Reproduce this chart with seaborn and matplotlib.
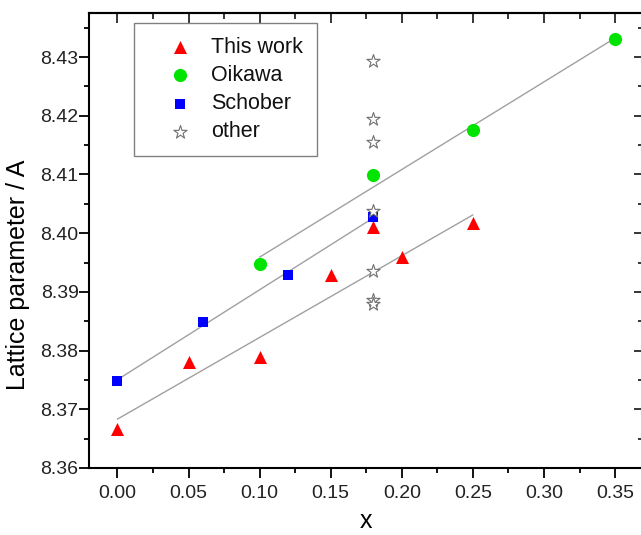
import numpy as np
import pandas as pd
import matplotlib
matplotlib.use("Agg")
import matplotlib.pyplot as plt
from matplotlib.ticker import MultipleLocator, FixedLocator
import seaborn as sns

# ---------------- data ----------------
this_x = [0.00, 0.05, 0.10, 0.15, 0.18, 0.20, 0.25]
this_y = [8.3667, 8.3780, 8.3789, 8.3929, 8.4011, 8.3960, 8.4018]
this_fit_excluded_x = [0.18]

oik_x = [0.10, 0.18, 0.25, 0.35]
oik_y = [8.3948, 8.4099, 8.4176, 8.4330]

sch_x = [0.00, 0.06, 0.12, 0.18]
sch_y = [8.3748, 8.3849, 8.3928, 8.4028]

oth_x = [0.18, 0.18, 0.18, 0.18, 0.18, 0.18, 0.18]
oth_y = [8.4293, 8.4195, 8.4155, 8.4037, 8.3936, 8.3887, 8.3880]

series_labels = ["This work", "Oikawa", "Schober", "other"]

xtick_vals = [0.00, 0.05, 0.10, 0.15, 0.20, 0.25, 0.30, 0.35]
xtick_labels = ["0.00", "0.05", "0.10", "0.15", "0.20", "0.25", "0.30", "0.35"]
ytick_vals = [8.36, 8.37, 8.38, 8.39, 8.40, 8.41, 8.42, 8.43]
ytick_labels = ["8.36", "8.37", "8.38", "8.39", "8.40", "8.41", "8.42", "8.43"]

x_label = "x"
y_label = "Lattice parameter / A"

# ---------------- style ----------------
sns.set_style("ticks")
plt.rcParams["font.family"] = ["Liberation Sans", "DejaVu Sans"]

fig = plt.figure(figsize=(6.41, 5.35), dpi=100)
ax = fig.add_axes([89 / 641, 1 - 468 / 535, (643.5 - 89) / 641, (468 - 13) / 535])

df_this = pd.DataFrame({"x": this_x, "y": this_y})
df_fit = df_this[~df_this["x"].isin(this_fit_excluded_x)]
df_oik = pd.DataFrame({"x": oik_x, "y": oik_y})
df_sch = pd.DataFrame({"x": sch_x, "y": sch_y})
df_oth = pd.DataFrame({"x": oth_x, "y": oth_y})

line_kws = dict(color="#a0a0a0", lw=1.0, zorder=1)
sns.regplot(data=df_fit, x="x", y="y", scatter=False, ci=None, truncate=True,
            line_kws=line_kws, ax=ax)
sns.regplot(data=df_oik, x="x", y="y", scatter=False, ci=None, truncate=True,
            line_kws=line_kws, ax=ax)
sns.regplot(data=df_sch, x="x", y="y", scatter=False, ci=None, truncate=True,
            line_kws=line_kws, ax=ax)

sns.scatterplot(data=df_this, x="x", y="y", marker="^", s=88, color="#ff0000",
                edgecolor="#ff0000", linewidth=0, label=series_labels[0], ax=ax, zorder=3)
sns.scatterplot(data=df_oik, x="x", y="y", marker="o", s=90, color="#00e400",
                edgecolor="#00e400", linewidth=0, label=series_labels[1], ax=ax, zorder=3)
sns.scatterplot(data=df_sch, x="x", y="y", marker="s", s=52, color="#0000ff",
                edgecolor="#0000ff", linewidth=0, label=series_labels[2], ax=ax, zorder=3)
sns.scatterplot(data=df_oth, x="x", y="y", marker="*", s=100, facecolor="white",
                edgecolor="#707070", linewidth=0.8, label=series_labels[3], ax=ax, zorder=4)

ax.set_xlim(-0.02, 0.37)
ax.set_ylim(8.36, 8.4375)

ax.set_xticks(xtick_vals)
ax.set_xticklabels(xtick_labels)
ax.set_yticks(ytick_vals)
ax.set_yticklabels(ytick_labels)
ax.xaxis.set_minor_locator(MultipleLocator(0.025))
ax.yaxis.set_minor_locator(MultipleLocator(0.005))

tick_color = "#222222"
ax.tick_params(which="major", direction="out", length=7, width=1.3, colors="black",
               labelcolor=tick_color, labelsize=14, top=False, right=False)
ax.tick_params(which="minor", direction="out", length=3.8, width=1.3, colors="black",
               top=False, right=False)
ax.tick_params(axis="y", which="major", pad=0.5)
ax.tick_params(axis="x", which="major", pad=5)

for sp in ax.spines.values():
    sp.set_linewidth(1.5)
    sp.set_color("black")
    sp.set_visible(True)

# top & right inward ticks
sec_top = ax.secondary_xaxis("top")
sec_top.xaxis.set_major_locator(FixedLocator(xtick_vals))
sec_top.xaxis.set_minor_locator(MultipleLocator(0.025))
sec_top.tick_params(which="major", direction="in", length=7, width=1.3, labeltop=False)
sec_top.tick_params(which="minor", direction="in", length=4.2, width=1.3)
sec_top.spines["top"].set_linewidth(1.5)

sec_right = ax.secondary_yaxis("right")
sec_right.yaxis.set_major_locator(FixedLocator(ytick_vals))
sec_right.yaxis.set_minor_locator(MultipleLocator(0.005))
sec_right.tick_params(which="major", direction="in", length=7, width=1.3, labelright=False)
sec_right.tick_params(which="minor", direction="in", length=4.2, width=1.3)
sec_right.spines["right"].set_linewidth(1.5)

ax.set_xlabel(x_label, fontsize=18, color="black", va="bottom")
ax.xaxis.set_label_coords(0.5, -0.1425)
ax.set_ylabel(y_label, fontsize=18, color="black", va="center", ha="center")
ax.yaxis.set_label_coords(-0.128, 0.425)

leg = ax.legend(loc="upper left", bbox_to_anchor=(0.081, 0.978), borderaxespad=0,
                fontsize=15.5, frameon=True, fancybox=False, shadow=False,
                borderpad=0.65, handlelength=3.0, handletextpad=-0.07,
                labelspacing=0.33, framealpha=1, edgecolor="#808080")
leg.get_frame().set_linewidth(1.0)
for t in leg.get_texts():
    t.set_color("#111111")

fig.savefig("out.png", dpi=100)
